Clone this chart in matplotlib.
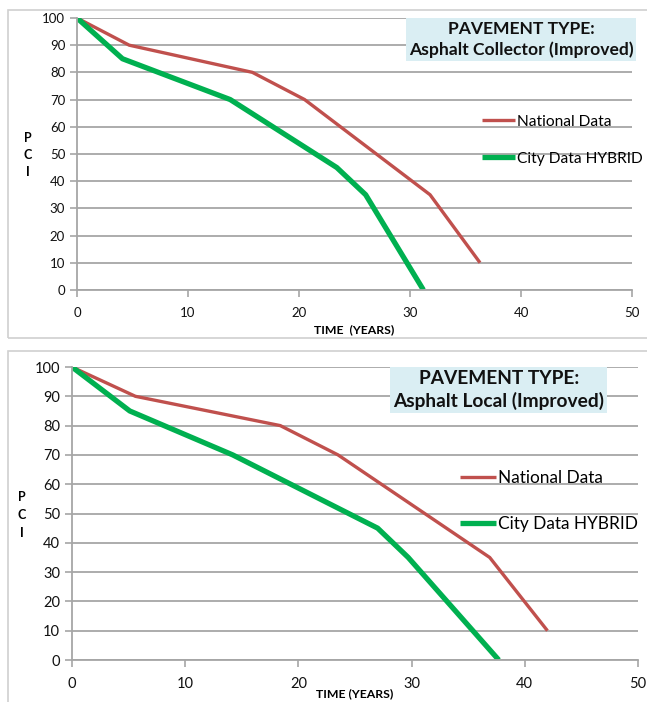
import matplotlib
matplotlib.use('Agg')
import matplotlib.pyplot as plt
from matplotlib.patches import Rectangle

plt.rcParams['font.family'] = ['Lato', 'DejaVu Sans']

# Asphalt Collector (Improved)
col_nat_x = [0, 4.7, 15.8, 20.5, 31.8, 36.3]
col_nat_y = [100, 90, 80, 70, 35, 10]
col_city_x = [0, 4.1, 13.8, 23.4, 26.0, 31.2]
col_city_y = [100, 85, 70, 45, 35, 0]

# Asphalt Local (Improved)
loc_nat_x = [0, 5.6, 18.4, 23.5, 36.9, 42.0]
loc_nat_y = [100, 90, 80, 70, 35, 10]
loc_city_x = [0, 5.1, 14.2, 27.0, 29.7, 37.7]
loc_city_y = [100, 85, 70, 45, 35, 0]

labels = ['National Data', 'City Data HYBRID']
nat_color = '#C0504D'
city_color = '#00B050'
grid_color = '#A6A6A6'

fig = plt.figure(figsize=(6.47, 7.02), dpi=100)

# panel frames
fig.patches.append(Rectangle((0.0124, 0.5185), 1.2, 0.4673, transform=fig.transFigure,
                             fill=False, edgecolor='#D0D0D0', lw=1.2))
fig.patches.append(Rectangle((0.0124, -0.1), 1.2, 0.6, transform=fig.transFigure,
                             fill=False, edgecolor='#D0D0D0', lw=1.2))


def draw_panel(ax, nx, ny, cx, cy, title, title_fs, leg_fs, leg_anchor, leg_sp, tick_fs, box_xy):
    ax.set_xlim(0, 50)
    ax.set_ylim(0, 100)
    ax.set_yticks(range(0, 101, 10))
    ax.set_xticks(range(0, 51, 10))
    ax.yaxis.grid(True, color=grid_color, lw=1.3)
    ax.set_axisbelow(True)
    for s in ['top', 'right']:
        ax.spines[s].set_visible(False)
    for s in ['left', 'bottom']:
        ax.spines[s].set_color(grid_color)
        ax.spines[s].set_linewidth(1.3)
    ax.tick_params(colors=grid_color, labelcolor='#111111', labelsize=tick_fs, length=5, width=1.2)
    ax.tick_params(axis='x', pad=7)
    ax.plot(nx, ny, color=nat_color, lw=2.4, label=labels[0], solid_capstyle='butt')
    ax.plot(cx, cy, color=city_color, lw=3.8, label=labels[1], solid_capstyle='butt')
    ax.text(box_xy[0], box_xy[1], title, transform=ax.transAxes, ha='center', va='center',
            fontsize=title_fs, fontweight='bold', linespacing=1.35, color='#111111',
            bbox=dict(boxstyle='square,pad=0.15', facecolor='#DAEEF3', edgecolor='none'))
    ax.legend(loc='upper left', bbox_to_anchor=leg_anchor, frameon=False, fontsize=leg_fs,
              handlelength=2.1, handletextpad=0.15, labelspacing=leg_sp, borderpad=0,
              borderaxespad=0)


ax1 = fig.add_axes([0.119, 0.587, 0.858, 0.3874])
draw_panel(ax1, col_nat_x, col_nat_y, col_city_x, col_city_y,
           'PAVEMENT TYPE:\nAsphalt Collector (Improved)', 12.6, 11.2, (0.73, 0.645), 1.5, 9.5,
           (0.80, 0.921))
ax1.set_xlabel('TIME  (YEARS)', fontsize=8.8, fontweight='bold', labelpad=4)
fig.text(28 / 647, 1 - 155 / 702, 'P\nC\nI', ha='center', va='center', fontsize=9,
         fontweight='bold', linespacing=1.5)

ax2 = fig.add_axes([0.1113, 0.0598, 0.8748, 0.4174])
draw_panel(ax2, loc_nat_x, loc_nat_y, loc_city_x, loc_city_y,
           'PAVEMENT TYPE:\nAsphalt Local (Improved)', 13.8, 12.4, (0.685, 0.65), 1.75, 10.5,
           (0.754, 0.921))
ax2.set_xlabel('TIME (YEARS)', fontsize=8.8, fontweight='bold', labelpad=-2)
fig.text(22 / 647, 1 - 515 / 702, 'P\nC\nI', ha='center', va='center', fontsize=9,
         fontweight='bold', linespacing=1.6)

fig.savefig('out.png', dpi=100)
